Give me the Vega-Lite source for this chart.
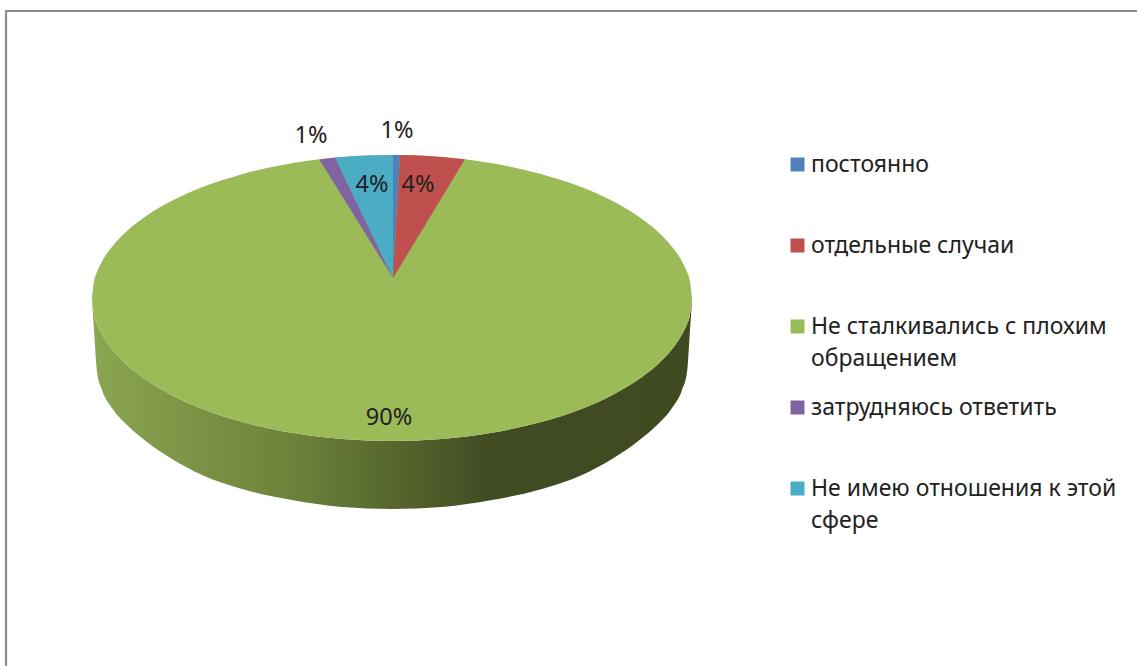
{"$schema":"https://vega.github.io/schema/vega-lite/v6.json","width":1137,"height":666,"padding":0,"autosize":{"type":"none"},"background":"white","config":{"view":{"stroke":null},"axis":{"disable":true},"style":{"guide-label":{"lineHeight":32}}},
"datasets":{
"frame":[{"x":6,"y":11,"x2":6,"y2":666},{"x":5,"y":11,"x2":1137,"y2":11}],
"side":[{"x":92,"y":298,"y2":300},{"x":94,"y":314.5,"y2":330},{"x":97,"y":324,"y2":372},{"x":102,"y":334.6,"y2":390},{"x":112,"y":349.3,"y2":408},{"x":127,"y":365,"y2":425},{"x":147,"y":380.5,"y2":442},{"x":172,"y":395.2,"y2":459},{"x":202,"y":408.7,"y2":475},{"x":242,"y":421.8,"y2":489},{"x":292,"y":432.8,"y2":500},{"x":342,"y":439,"y2":507},{"x":392,"y":441,"y2":509},{"x":442,"y":439,"y2":507},{"x":492,"y":432.8,"y2":500},{"x":542,"y":421.8,"y2":489},{"x":582,"y":408.7,"y2":475},{"x":612,"y":395.2,"y2":459},{"x":637,"y":380.5,"y2":442},{"x":657,"y":365,"y2":425},{"x":672,"y":349.3,"y2":408},{"x":682,"y":334.6,"y2":390},{"x":687,"y":324,"y2":372},{"x":690,"y":314.5,"y2":330},{"x":692,"y":298,"y2":300}],
"green":[{"slice":"Не сталкивались с плохим обращением","x":92,"y":298,"y2":298},{"slice":"Не сталкивались с плохим обращением","x":94,"y":281.5,"y2":314.5},{"slice":"Не сталкивались с плохим обращением","x":97,"y":272,"y2":324},{"slice":"Не сталкивались с плохим обращением","x":102,"y":261.4,"y2":334.6},{"slice":"Не сталкивались с плохим обращением","x":112,"y":246.7,"y2":349.3},{"slice":"Не сталкивались с плохим обращением","x":127,"y":231,"y2":365},{"slice":"Не сталкивались с плохим обращением","x":147,"y":215.5,"y2":380.5},{"slice":"Не сталкивались с плохим обращением","x":172,"y":200.8,"y2":395.2},{"slice":"Не сталкивались с плохим обращением","x":202,"y":187.3,"y2":408.7},{"slice":"Не сталкивались с плохим обращением","x":242,"y":174.2,"y2":421.8},{"slice":"Не сталкивались с плохим обращением","x":292,"y":163.2,"y2":432.8},{"slice":"Не сталкивались с плохим обращением","x":342,"y":157,"y2":439},{"slice":"Не сталкивались с плохим обращением","x":392,"y":155,"y2":441},{"slice":"Не сталкивались с плохим обращением","x":442,"y":157,"y2":439},{"slice":"Не сталкивались с плохим обращением","x":492,"y":163.2,"y2":432.8},{"slice":"Не сталкивались с плохим обращением","x":542,"y":174.2,"y2":421.8},{"slice":"Не сталкивались с плохим обращением","x":582,"y":187.3,"y2":408.7},{"slice":"Не сталкивались с плохим обращением","x":612,"y":200.8,"y2":395.2},{"slice":"Не сталкивались с плохим обращением","x":637,"y":215.5,"y2":380.5},{"slice":"Не сталкивались с плохим обращением","x":657,"y":231,"y2":365},{"slice":"Не сталкивались с плохим обращением","x":672,"y":246.7,"y2":349.3},{"slice":"Не сталкивались с плохим обращением","x":682,"y":261.4,"y2":334.6},{"slice":"Не сталкивались с плохим обращением","x":687,"y":272,"y2":324},{"slice":"Не сталкивались с плохим обращением","x":690,"y":281.5,"y2":314.5},{"slice":"Не сталкивались с плохим обращением","x":692,"y":298,"y2":298}],
"wedges":[{"slice":"постоянно","x":393,"y":155,"y2":278},{"slice":"постоянно","x":400,"y":155.1,"y2":155.1},
{"slice":"отдельные случаи","x":393,"y":278,"y2":278},{"slice":"отдельные случаи","x":400,"y":155.1,"y2":266.5},{"slice":"отдельные случаи","x":420,"y":155.6,"y2":233.5},{"slice":"отдельные случаи","x":442,"y":157,"y2":197.2},{"slice":"отдельные случаи","x":465,"y":159.3,"y2":159.3},
{"slice":"затрудняюсь ответить","x":319.3,"y":159.5,"y2":159.5},{"slice":"затрудняюсь ответить","x":335,"y":157.6,"y2":184.7},{"slice":"затрудняюсь ответить","x":393,"y":278,"y2":278},
{"slice":"Не имею отношения к этой сфере","x":335,"y":157.6,"y2":157.6},{"slice":"Не имею отношения к этой сфере","x":360,"y":155.8,"y2":209.5},{"slice":"Не имею отношения к этой сфере","x":393,"y":155,"y2":278}],
"labels":[{"slice":"постоянно","share":"1%","x":397,"y":131},{"slice":"отдельные случаи","share":"4%","x":418,"y":185},{"slice":"Не сталкивались с плохим обращением","share":"90%","x":389,"y":418},{"slice":"затрудняюсь ответить","share":"1%","x":311,"y":136},{"slice":"Не имею отношения к этой сфере","share":"4%","x":372,"y":185}]
},
"layer":[
{"data":{"name":"frame"},"mark":{"type":"rule","color":"#8c8c8c","strokeWidth":2.2},"encoding":{"x":{"field":"x","type":"quantitative","scale":{"domain":[0,1137]}},"y":{"field":"y","type":"quantitative","scale":{"domain":[666,0]}},"x2":{"field":"x2"},"y2":{"field":"y2"}}},
{"data":{"name":"side"},"mark":{"type":"area","orient":"vertical","interpolate":"monotone","color":{"gradient":"linear","x1":0,"y1":0,"x2":1,"y2":0,"stops":[{"offset":0,"color":"#8ba651"},{"offset":0.35,"color":"#6b8039"},{"offset":0.66,"color":"#414c23"},{"offset":1,"color":"#3f4a21"}]}},"encoding":{"x":{"field":"x","type":"quantitative","scale":{"domain":[0,1137]}},"y":{"field":"y","type":"quantitative","scale":{"domain":[666,0]},"stack":null},"y2":{"field":"y2"}}},
{"data":{"name":"green"},"mark":{"type":"area","orient":"vertical","interpolate":"monotone"},"encoding":{"x":{"field":"x","type":"quantitative","scale":{"domain":[0,1137]}},"y":{"field":"y","type":"quantitative","scale":{"domain":[666,0]},"stack":null},"y2":{"field":"y2"},"color":{"field":"slice","type":"nominal","scale":{"domain":["постоянно","отдельные случаи","Не сталкивались с плохим обращением","затрудняюсь ответить","Не имею отношения к этой сфере"],"range":["#4f81bd","#c0504d","#9bbb59","#8064a2","#4bacc6"]},"legend":{"orient":"none","legendX":786,"legendY":153,"title":null,"symbolType":"square","symbolSize":196,"symbolStrokeWidth":0,"gridAlign":"all","rowPadding":25,"labelOffset":2,"labelFont":"Noto Sans","labelFontSize":23,"labelColor":"#222222","labelLimit":400,"labelBaseline":"middle","labelExpr":"datum.label=='Не сталкивались с плохим обращением'?['Не сталкивались с плохим','обращением']:datum.label=='Не имею отношения к этой сфере'?['Не имею отношения к этой','сфере']:datum.label"}}}},
{"data":{"name":"wedges"},"mark":{"type":"area","orient":"vertical","interpolate":"linear"},"encoding":{"x":{"field":"x","type":"quantitative","scale":{"domain":[0,1137]}},"y":{"field":"y","type":"quantitative","scale":{"domain":[666,0]},"stack":null},"y2":{"field":"y2"},"color":{"field":"slice","type":"nominal"}}},
{"data":{"name":"labels"},"mark":{"type":"text","font":"Noto Sans","fontSize":23.5,"color":"#222222","align":"center","baseline":"middle"},"encoding":{"x":{"field":"x","type":"quantitative","scale":{"domain":[0,1137]}},"y":{"field":"y","type":"quantitative","scale":{"domain":[666,0]}},"text":{"field":"share","type":"nominal"}}}
]}
